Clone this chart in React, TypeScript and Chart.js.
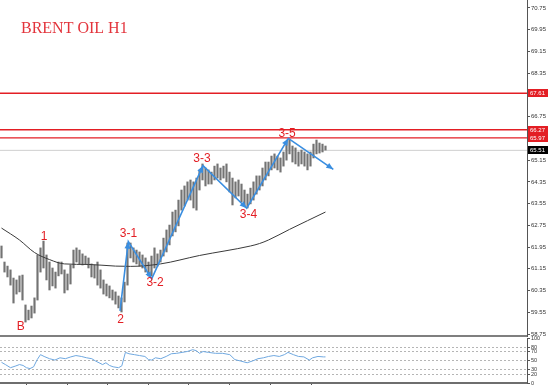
import React, { useEffect, useRef } from "react";
import { Chart, registerables } from "chart.js";
Chart.register(...registerables);

// ---- data (bar index on x, price on y) ----
const barHighs = [61.99, 61.40, 61.25, 61.11, 60.81, 60.74, 60.89, 60.92, 59.82, 59.63, 59.78, 60.08, 61.66, 61.92, 62.17, 61.66, 61.40, 61.18, 61.03, 61.40, 61.40, 61.11, 60.96, 61.29, 61.84, 61.92, 61.84, 61.70, 61.62, 61.55, 61.33, 61.29, 61.40, 61.11, 60.74, 60.59, 60.52, 60.37, 60.30, 60.15, 60.08, 60.66, 62.10, 62.10, 61.92, 61.84, 61.77, 61.66, 61.55, 61.40, 61.62, 61.92, 61.70, 61.84, 62.28, 62.58, 62.76, 63.24, 63.31, 63.68, 64.05, 64.20, 64.35, 64.42, 64.35, 64.49, 64.79, 65.01, 64.86, 64.79, 64.71, 64.93, 65.01, 64.86, 64.93, 65.01, 64.71, 64.49, 64.35, 64.42, 64.27, 64.05, 63.90, 64.12, 64.35, 64.57, 64.57, 64.86, 65.08, 65.08, 65.30, 65.38, 65.30, 65.23, 65.45, 65.82, 65.93, 65.67, 65.60, 65.45, 65.52, 65.45, 65.38, 65.45, 65.74, 65.89, 65.78, 65.74, 65.67];
const barLows = [61.55, 61.03, 60.85, 60.55, 59.89, 60.22, 60.30, 60.00, 59.19, 59.27, 59.34, 59.52, 60.00, 61.03, 61.18, 60.74, 60.37, 60.52, 60.44, 60.89, 60.96, 60.26, 60.37, 60.59, 61.18, 61.40, 61.33, 61.29, 61.33, 61.18, 60.85, 60.81, 60.55, 60.44, 60.22, 60.15, 60.08, 60.00, 59.85, 59.71, 59.56, 59.93, 60.55, 61.55, 61.40, 61.33, 61.25, 61.18, 61.03, 60.89, 60.89, 61.18, 61.25, 61.40, 61.62, 61.77, 62.03, 62.36, 62.51, 62.73, 63.31, 63.46, 63.68, 63.68, 63.39, 63.31, 64.05, 64.42, 64.20, 64.27, 64.27, 64.42, 64.49, 64.42, 64.49, 64.35, 63.98, 63.50, 63.76, 63.83, 63.61, 63.46, 63.39, 63.54, 63.68, 63.90, 64.05, 64.20, 64.42, 64.57, 64.79, 64.86, 64.79, 64.71, 64.93, 65.15, 65.38, 65.08, 65.01, 64.93, 65.01, 64.93, 64.79, 64.93, 65.23, 65.38, 65.41, 65.45, 65.52];

const maIdx = [0, 6, 11, 16, 21, 29, 38, 43, 53, 66, 83, 86, 89, 96, 108];
const maValues = [62.65, 62.21, 61.75, 61.49, 61.33, 61.31, 61.25, 61.24, 61.33, 61.64, 61.99, 62.08, 62.21, 62.60, 63.24];

const waveIdx = [39.5, 42.27, 50.07, 67.17, 81.73, 95.6, 110.6];
const wavePrices = [59.60, 62.15, 60.78, 64.95, 63.38, 65.95, 64.81];

const waveLabels = ["B", "1", "2", "3-1", "3-2", "3-3", "3-4", "3-5"];
const labelIdx = [6.4, 14.2, 39.7, 42.3, 51.2, 66.8, 82.3, 95.2];
const labelPrices = [59.02, 62.32, 59.27, 62.43, 60.64, 65.21, 63.13, 66.11];

const resistanceLevels = [67.61, 66.27, 65.97];
const lastPrice = 65.51;

const priceTicks = [70.75, 69.95, 69.15, 68.35, 67.55, 66.75, 65.95, 65.15, 64.35, 63.55, 62.75, 61.95, 61.15, 60.35, 59.55, 58.75];

const rsiIdx = [0, 1.3, 3.0, 4.8, 6.0, 7.2, 8.3, 9.5, 10.7, 11.9, 13.0, 14.2, 16.0, 17.8, 19.5, 21.3, 23.1, 24.8, 26.6, 28.4, 30.1, 31.3, 32.5, 33.7, 34.8, 36.0, 37.2, 39.0, 40.1, 41.3, 42.5, 44.3, 46.0, 47.8, 49.0, 50.1, 51.3, 53.1, 54.9, 56.6, 58.4, 60.2, 61.9, 63.7, 64.9, 66.0, 67.2, 69.0, 71.3, 73.7, 76.1, 77.8, 79.6, 81.9, 83.7, 85.5, 87.3, 89.0, 90.8, 92.6, 94.3, 95.5, 97.3, 99.0, 100.8, 102.6, 103.7, 105.5, 107.3, 108];
const rsiValues = [46, 41, 34, 38, 41, 39, 34, 32, 36, 52, 63, 59, 54, 51, 56, 54, 58, 61, 59, 56, 54, 49, 45, 41, 45, 39, 36, 34, 38, 68, 65, 63, 61, 59, 52, 51, 56, 54, 59, 65, 66, 68, 70, 74, 72, 66, 70, 68, 66, 66, 63, 52, 49, 45, 49, 54, 56, 59, 61, 59, 63, 68, 63, 59, 58, 51, 56, 59, 58, 58];
const rsiTicks = [100, 80, 70, 50, 30, 20, 0];
const timeTicks = [8.3, 21.9, 35.4, 49.0, 62.5, 76.1, 89.6, 103.2];

const title = "BRENT OIL H1";

const X_MIN = -0.5;
const X_MAX = 175.17;
const Y_MIN = 58.677;
const Y_MAX = 71.044;

const RED = "#e31e24";
const BLUE = "#3a8ee0";

export default function App() {
  const mainRef = useRef<HTMLCanvasElement>(null);
  const rsiRef = useRef<HTMLCanvasElement>(null);

  useEffect(() => {
    const overlay = {
      id: "overlay",
      afterDraw(chart: any) {
        const ctx = chart.ctx;
        const xs = chart.scales.x;
        const ys = chart.scales.y;
        const area = chart.chartArea;
        ctx.save();
        // arrowheads on wave
        const pts = chart.getDatasetMeta(0).data;
        ctx.fillStyle = BLUE;
        for (let j = 1; j < pts.length; j++) {
          const a = pts[j - 1], b = pts[j];
          const ang = Math.atan2(b.y - a.y, b.x - a.x);
          const L = 7, W = 3;
          ctx.beginPath();
          ctx.moveTo(b.x, b.y);
          ctx.lineTo(b.x - L * Math.cos(ang) + W * Math.sin(ang), b.y - L * Math.sin(ang) - W * Math.cos(ang));
          ctx.lineTo(b.x - L * Math.cos(ang) - W * Math.sin(ang), b.y - L * Math.sin(ang) + W * Math.cos(ang));
          ctx.closePath();
          ctx.fill();
        }
        // wave labels
        ctx.fillStyle = RED;
        ctx.font = '12px "Liberation Sans"';
        ctx.textAlign = "center";
        ctx.textBaseline = "middle";
        waveLabels.forEach((t, i) => {
          ctx.fillText(t, xs.getPixelForValue(labelIdx[i]), ys.getPixelForValue(labelPrices[i]));
        });
        // title
        ctx.fillStyle = "#e3343c";
        ctx.font = '16px "Liberation Serif"';
        ctx.textAlign = "left";
        ctx.textBaseline = "alphabetic";
        ctx.fillText(title, area.left + 21, area.top + 33);
        // price boxes on axis
        const boxes = resistanceLevels.map((v) => ({ v, c: RED })).concat([{ v: lastPrice, c: "#000" }]);
        ctx.font = '6px "Liberation Sans"';
        ctx.textBaseline = "middle";
        boxes.forEach(({ v, c }) => {
          const py = ys.getPixelForValue(v);
          ctx.fillStyle = c;
          ctx.fillRect(ys.left + 1, Math.round(py) - 4, 20, 8);
          ctx.fillStyle = "#fff";
          ctx.fillText(v.toFixed(2), ys.left + 3, Math.round(py) + 0.5);
        });
        ctx.restore();
      },
    };

    const levelDs = resistanceLevels.map((v) => ({
      type: "line",
      data: [{ x: X_MIN, y: v }, { x: X_MAX, y: v }],
      borderColor: RED,
      borderWidth: 1.4,
      pointRadius: 0,
      order: 3,
    }));

    const main = new Chart(mainRef.current as HTMLCanvasElement, {
      type: "bar",
      data: {
        datasets: [
          {
            type: "line",
            data: waveIdx.map((x, i) => ({ x, y: wavePrices[i] })),
            borderColor: BLUE,
            borderWidth: 1.6,
            pointRadius: 0,
            order: 0,
          },
          {
            type: "line",
            data: maIdx.map((x, i) => ({ x, y: maValues[i] })),
            borderColor: "#3a3a3a",
            borderWidth: 1,
            pointRadius: 0,
            cubicInterpolationMode: "monotone",
            order: 1,
          },
          {
            type: "bar",
            data: barHighs.map((h, i) => ({ x: i, y: [barLows[i], h] })),
            backgroundColor: "#737373",
            barThickness: 1.5,
            order: 2,
          },
          ...levelDs,
          {
            type: "line",
            data: [{ x: X_MIN, y: lastPrice }, { x: X_MAX, y: lastPrice }],
            borderColor: "#cfcfcf",
            borderWidth: 1,
            pointRadius: 0,
            order: 4,
          },
        ] as any,
      },
      options: {
        responsive: false,
        animation: false,
        events: [],
        layout: { padding: 0 },
        plugins: { legend: { display: false }, tooltip: { enabled: false }, title: { display: false } },
        scales: {
          x: {
            type: "linear",
            min: X_MIN,
            max: X_MAX,
            offset: false,
            grid: { display: false, drawTicks: false },
            ticks: { display: false },
            border: { display: true, color: "#7f7f7f", width: 2 },
            afterFit(s: any) { s.height = 2; s.paddingLeft = 0; s.paddingRight = 0; },
          },
          y: {
            type: "linear",
            position: "right",
            min: Y_MIN,
            max: Y_MAX,
            grid: { drawOnChartArea: false, drawTicks: true, tickLength: 3, color: "#555" },
            border: { color: "#555", width: 1 },
            ticks: {
              font: { family: "Liberation Sans", size: 6 },
              color: "#333",
              padding: 1,
              autoSkip: false,
              callback: (v: any) => Number(v).toFixed(2),
            },
            afterBuildTicks(s: any) { s.ticks = priceTicks.map((v) => ({ value: v })); },
            afterFit(s: any) { s.width = 27; s.paddingTop = 0; s.paddingBottom = 0; },
          },
        },
      } as any,
      plugins: [overlay],
    });

    const rsi = new Chart(rsiRef.current as HTMLCanvasElement, {
      type: "line",
      data: {
        datasets: [
          {
            data: rsiIdx.map((x, i) => ({ x, y: rsiValues[i] })),
            borderColor: "#6fa8e0",
            borderWidth: 1,
            pointRadius: 0,
          },
        ],
      },
      options: {
        responsive: false,
        animation: false,
        events: [],
        layout: { padding: { top: 8 } },
        plugins: { legend: { display: false }, tooltip: { enabled: false } },
        scales: {
          x: {
            type: "linear",
            min: X_MIN,
            max: X_MAX,
            offset: false,
            grid: { display: true, drawOnChartArea: false, drawTicks: true, tickLength: 2, color: "#555" },
            ticks: { display: false },
            border: { display: true, color: "#6e6e6e", width: 2 },
            afterBuildTicks(s: any) { s.ticks = timeTicks.map((v) => ({ value: v })); },
            afterFit(s: any) { s.height = 2; s.paddingLeft = 0; s.paddingRight = 0; },
          },
          y: {
            type: "linear",
            position: "right",
            min: 0,
            max: 100,
            grid: {
              drawOnChartArea: true,
              drawTicks: true,
              tickLength: 3,
              tickColor: "#555",
              color: (c: any) => (c.tick && (c.tick.value === 0 || c.tick.value === 100) ? "rgba(0,0,0,0)" : "#b5b5b5"),
            },
            border: { color: "#555", width: 1, dash: [2, 2] },
            ticks: {
              font: { family: "Liberation Sans", size: 5.5 },
              color: "#333",
              padding: 1,
              autoSkip: false,
            },
            afterBuildTicks(s: any) { s.ticks = rsiTicks.map((v) => ({ value: v })); },
            afterFit(s: any) { s.width = 27; s.paddingTop = 0; s.paddingBottom = 0; },
          },
        },
      } as any,
    });

    return () => {
      main.destroy();
      rsi.destroy();
    };
  }, []);

  return (
    <div style={{ position: "absolute", left: 0, top: 0, width: 554, height: 385, background: "#fff", overflow: "hidden" }}>
      <canvas ref={mainRef} width={554} height={338} style={{ position: "absolute", left: 0, top: 0 }} />
      <canvas ref={rsiRef} width={554} height={55} style={{ position: "absolute", left: 0, top: 330 }} />
    </div>
  );
}
